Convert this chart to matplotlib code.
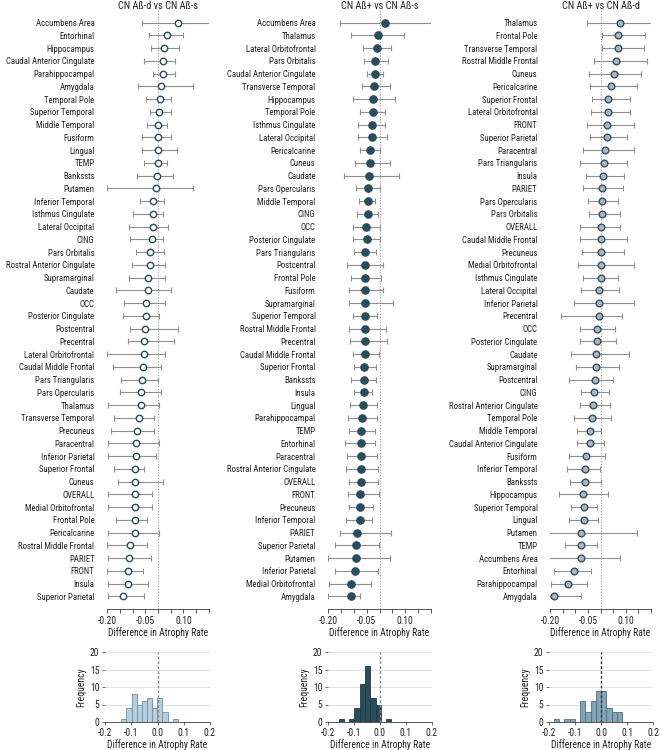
import matplotlib
matplotlib.use("Agg")
import matplotlib.pyplot as plt
from matplotlib import font_manager
from matplotlib.textpath import TextPath
from matplotlib.font_manager import FontProperties
import numpy as np

# ---------------- data ----------------
titles = ["CN Aß-d vs CN Aß-s", "CN Aß+ vs CN Aß-s", "CN Aß+ vs CN Aß-d"]

p1_regions = ["Accumbens Area", "Entorhinal", "Hippocampus", "Caudal Anterior Cingulate", "Parahippocampal",
              "Amygdala", "Temporal Pole", "Superior Temporal", "Middle Temporal", "Fusiform", "Lingual", "TEMP",
              "Bankssts", "Putamen", "Inferior Temporal", "Isthmus Cingulate", "Lateral Occipital", "CING",
              "Pars Orbitalis", "Rostral Anterior Cingulate", "Supramarginal", "Caudate", "OCC",
              "Posterior Cingulate", "Postcentral", "Precentral", "Lateral Orbitofrontal", "Caudal Middle Frontal",
              "Pars Triangularis", "Pars Opercularis", "Thalamus", "Transverse Temporal", "Precuneus",
              "Paracentral", "Inferior Parietal", "Superior Frontal", "Cuneus", "OVERALL", "Medial Orbitofrontal",
              "Frontal Pole", "Pericalcarine", "Rostral Middle Frontal", "PARIET", "FRONT", "Insula",
              "Superior Parietal"]
p1_est = [0.080, 0.037, 0.022, 0.021, 0.021, 0.010, 0.007, 0.004, 0.000, 0.001, 0.001, -0.001, -0.003, -0.007,
          -0.018, -0.021, -0.021, -0.022, -0.031, -0.033, -0.040, -0.040, -0.046, -0.046, -0.052, -0.054,
          -0.056, -0.057, -0.063, -0.068, -0.068, -0.073, -0.081, -0.085, -0.087, -0.090, -0.091, -0.091,
          -0.091, -0.091, -0.091, -0.110, -0.114, -0.119, -0.119, -0.136]
p1_lo = [-0.064, -0.034, -0.029, -0.055, -0.018, -0.077, -0.048, -0.031, -0.042, -0.061, -0.061, -0.055, -0.081,
         -0.201, -0.070, -0.097, -0.112, -0.110, -0.086, -0.103, -0.112, -0.166, -0.132, -0.138, -0.110, -0.116,
         -0.201, -0.178, -0.144, -0.149, -0.198, -0.172, -0.185, -0.195, -0.198, -0.171, -0.155, -0.195, -0.198,
         -0.166, -0.198, -0.201, -0.198, -0.201, -0.198, -0.198]
p1_hi = [0.210, 0.099, 0.084, 0.068, 0.068, 0.138, 0.050, 0.050, 0.037, 0.050, 0.073, 0.037, 0.060, 0.136,
         0.025, 0.021, 0.040, 0.021, 0.025, 0.029, 0.029, 0.050, 0.029, 0.003, 0.077, 0.063, 0.029, 0.012,
         0.001, 0.010, 0.005, -0.014, -0.014, 0.003, -0.008, -0.054, 0.018, -0.025, -0.025, -0.042, 0.005,
         -0.044, -0.029, -0.060, -0.038, -0.055]

p2_regions = ["Accumbens Area", "Thalamus", "Lateral Orbitofrontal", "Pars Orbitalis", "Caudal Anterior Cingulate",
              "Transverse Temporal", "Hippocampus", "Temporal Pole", "Isthmus Cingulate", "Lateral Occipital",
              "Pericalcarine", "Cuneus", "Caudate", "Pars Opercularis", "Middle Temporal", "CING", "OCC",
              "Posterior Cingulate", "Pars Triangularis", "Postcentral", "Frontal Pole", "Fusiform",
              "Supramarginal", "Superior Temporal", "Rostral Middle Frontal", "Precentral", "Caudal Middle Frontal",
              "Superior Frontal", "Bankssts", "Insula", "Lingual", "Parahippocampal", "TEMP", "Entorhinal",
              "Paracentral", "Rostral Anterior Cingulate", "OVERALL", "FRONT", "Precuneus", "Inferior Temporal",
              "PARIET", "Superior Parietal", "Putamen", "Inferior Parietal", "Medial Orbitofrontal", "Amygdala"]
p2_est = [0.022, -0.004, -0.009, -0.019, -0.019, -0.021, -0.026, -0.026, -0.030, -0.031, -0.036, -0.036, -0.039,
          -0.044, -0.044, -0.044, -0.051, -0.048, -0.055, -0.055, -0.057, -0.057, -0.057, -0.057, -0.057,
          -0.058, -0.058, -0.060, -0.062, -0.062, -0.066, -0.069, -0.070, -0.071, -0.071, -0.071, -0.071,
          -0.074, -0.074, -0.075, -0.086, -0.092, -0.092, -0.095, -0.110, -0.110]
p2_lo = [-0.152, -0.110, -0.065, -0.061, -0.049, -0.069, -0.104, -0.077, -0.082, -0.082, -0.077, -0.096, -0.139,
         -0.091, -0.078, -0.088, -0.104, -0.104, -0.100, -0.125, -0.110, -0.119, -0.117, -0.104, -0.119,
         -0.116, -0.104, -0.100, -0.110, -0.100, -0.114, -0.122, -0.119, -0.135, -0.127, -0.131, -0.117,
         -0.122, -0.119, -0.132, -0.152, -0.171, -0.201, -0.171, -0.197, -0.201]
p2_hi = [0.210, 0.095, 0.043, 0.032, 0.013, 0.039, 0.062, 0.023, 0.021, 0.029, 0.001, 0.039, 0.075, 0.003,
         -0.016, -0.006, 0.003, 0.000, -0.012, 0.013, 0.005, 0.013, 0.052, -0.010, 0.026, 0.029, -0.001,
         -0.013, -0.013, -0.029, -0.009, -0.009, -0.018, -0.018, -0.009, -0.006, -0.005, -0.001, -0.025,
         -0.030, 0.045, -0.001, 0.042, -0.005, -0.032, -0.077]

p3_regions = ["Thalamus", "Frontal Pole", "Transverse Temporal", "Rostral Middle Frontal", "Cuneus", "Pericalcarine",
              "Superior Frontal", "Lateral Orbitofrontal", "FRONT", "Superior Parietal", "Paracentral",
              "Pars Triangularis", "Insula", "PARIET", "Pars Opercularis", "Pars Orbitalis", "OVERALL",
              "Caudal Middle Frontal", "Precuneus", "Medial Orbitofrontal", "Isthmus Cingulate",
              "Lateral Occipital", "Inferior Parietal", "Precentral", "OCC", "Posterior Cingulate", "Caudate",
              "Supramarginal", "Postcentral", "CING", "Rostral Anterior Cingulate", "Temporal Pole",
              "Middle Temporal", "Caudal Anterior Cingulate", "Fusiform", "Inferior Temporal", "Bankssts",
              "Hippocampus", "Superior Temporal", "Lingual", "Putamen", "TEMP", "Accumbens Area", "Entorhinal",
              "Parahippocampal", "Amygdala"]
p3_est = [0.078, 0.068, 0.068, 0.060, 0.053, 0.040, 0.029, 0.031, 0.027, 0.027, 0.019, 0.015, 0.011, 0.004,
          0.005, 0.005, 0.001, 0.000, 0.000, 0.000, 0.000, -0.005, -0.007, -0.007, -0.012, -0.013, -0.016,
          -0.017, -0.023, -0.025, -0.029, -0.033, -0.041, -0.041, -0.057, -0.061, -0.061, -0.068, -0.066,
          -0.066, -0.076, -0.076, -0.077, -0.106, -0.130, -0.184]
p3_lo = [-0.054, 0.005, 0.005, -0.027, -0.046, -0.041, -0.034, -0.037, -0.054, -0.041, -0.070, -0.081, -0.057,
         -0.070, -0.050, -0.046, -0.081, -0.081, -0.073, -0.090, -0.070, -0.077, -0.106, -0.158, -0.081,
         -0.081, -0.117, -0.097, -0.126, -0.077, -0.082, -0.106, -0.092, -0.092, -0.126, -0.134, -0.122,
         -0.163, -0.117, -0.126, -0.203, -0.139, -0.203, -0.183, -0.195, -0.203]
p3_hi = [0.221, 0.176, 0.172, 0.184, 0.160, 0.145, 0.117, 0.117, 0.133, 0.105, 0.133, 0.105, 0.092, 0.088,
         0.069, 0.077, 0.077, 0.105, 0.092, 0.133, 0.070, 0.073, 0.133, 0.086, 0.057, 0.062, 0.114, 0.073,
         0.049, 0.033, 0.037, 0.040, 0.003, 0.013, 0.017, -0.001, 0.001, 0.031, -0.015, -0.011, 0.146,
         -0.015, 0.077, -0.037, -0.054, -0.078]

# histogram bins (left edge of first bin, bin width) and counts
h1_start, h1_width = -0.138, 0.0196
h1_counts = [1, 4, 8, 5, 6, 7, 4, 7, 3, 0, 1]
h2_start, h2_width = -0.159, 0.0203
h2_counts = [1, 0, 1, 4, 11, 16, 7, 5, 0, 1]
h3_start, h3_width = -0.182, 0.0203
h3_counts = [1, 0, 1, 1, 0, 6, 3, 6, 9, 9, 4, 3, 3]

# ---------------- font selection (prefer a condensed sans) ----------------
ttf = font_manager.fontManager.ttflist
names = {f.name for f in ttf}
family, stretch = None, 'normal'
for cand in ['Liberation Sans Narrow', 'Roboto Condensed', 'Open Sans Condensed', 'Noto Sans Condensed']:
    if cand in names:
        family = cand
        break
if family is None:
    for pref in ['Noto Sans', 'Open Sans', 'Roboto', 'DejaVu Sans', 'Liberation Sans']:
        cands = [f for f in ttf if f.name == pref and f.stretch in ('condensed', 'semi-condensed', 'extra-condensed')
                 and f.style == 'normal']
        if cands:
            family, stretch = pref, cands[0].stretch
            break
if family is None:
    family = 'Lato' if 'Lato' in names else 'DejaVu Sans'

plt.rcParams['font.family'] = [family, 'DejaVu Sans']
plt.rcParams['font.stretch'] = stretch

# size: fit the longest label to its width in the reference
fp = FontProperties(family=[family, 'DejaVu Sans'], stretch=stretch, size=10)
w10 = TextPath((0, 0), "Caudal Anterior Cingulate", prop=fp).get_extents().width  # points at size 10
fs = min(8.4, 10 * (88 * 0.72) / w10)
fs_title = fs * 1.16
fs_lab = fs * 1.1

# ---------------- styles ----------------
W, H = 660, 750
fig = plt.figure(figsize=(W / 100, H / 100), dpi=100)

dark = "#2b4c5a"
err_col = "#8e9091"
txt = "#222222"
spine_col = "#555555"

forest_px = [(107, 209), (328, 431), (550, 651)]
hist_px = [(105, 210), (328, 432), (549, 653)]
top_px, bot_px = 10, 609
htop_px, hbot_px = 652, 722

marker_styles = [
    dict(marker='o', markersize=4.6, markerfacecolor='white', markeredgecolor=dark, markeredgewidth=1.0),
    dict(marker='o', markersize=5.2, markerfacecolor=dark, markeredgecolor=dark, markeredgewidth=1.0),
    dict(marker='o', markersize=4.8, markerfacecolor='#a9b8c3', markeredgecolor='#3a4f5a', markeredgewidth=1.0),
]
hist_face = ['#b7cfdd', '#2b4c5a', '#82a5b7']
hist_edge = ['#6d8fa3', '#1f3a46', '#4d6f80']
vline_col = ['#8a8a8a', '#8a8a8a', '#333333']

panels = [(p1_regions, p1_est, p1_lo, p1_hi),
          (p2_regions, p2_est, p2_lo, p2_hi),
          (p3_regions, p3_est, p3_lo, p3_hi)]
hists = [(h1_start, h1_width, h1_counts), (h2_start, h2_width, h2_counts), (h3_start, h3_width, h3_counts)]

for i in range(3):
    regions, est, lo, hi = panels[i]
    est = np.array(est); lo = np.array(lo); hi = np.array(hi)
    x0, x1 = forest_px[i]
    ax = fig.add_axes([x0 / W, 1 - bot_px / H, (x1 - x0) / W, (bot_px - top_px) / H])
    y = np.arange(len(regions))
    ax.axvline(0, color='#9a9a9a', lw=0.8, ls=(0, (1, 1.5)), zorder=1)
    ax.errorbar(est, y, xerr=[est - lo, hi - est], fmt='none', ecolor=err_col, elinewidth=0.8,
                capsize=2.0, capthick=0.8, zorder=2)
    ax.plot(est, y, linestyle='none', zorder=3, **marker_styles[i])
    ax.set_xlim(-0.2, 0.2)
    ax.set_ylim(len(regions), -1)
    ax.set_yticks(y)
    ax.set_yticklabels(regions, fontsize=fs, color=txt)
    ax.tick_params(axis='y', left=False, pad=5.5)
    ax.set_xticks(np.arange(-0.20, 0.2001, 0.05))
    ax.set_xticklabels(['-0.20', '', '', '-0.05', '', '', '0.10', '', ''], fontsize=fs_lab, color=txt)
    ax.tick_params(axis='x', length=3, width=0.7, color=spine_col, pad=2)
    for s in ['top', 'left', 'right']:
        ax.spines[s].set_visible(False)
    ax.spines['bottom'].set_color(spine_col)
    ax.spines['bottom'].set_linewidth(0.7)
    ax.set_xlabel('Difference in Atrophy Rate', fontsize=fs_lab, color=txt, labelpad=1)
    ax.text(0.5, 1.0 + 4 / (bot_px - top_px), titles[i], transform=ax.transAxes, ha='center', va='center',
            fontsize=fs_title, color=txt)

    # histogram
    start, width, counts = hists[i]
    edges = start + width * np.arange(len(counts))
    hx0, hx1 = hist_px[i]
    hax = fig.add_axes([hx0 / W, 1 - hbot_px / H, (hx1 - hx0) / W, (hbot_px - htop_px) / H])
    hax.set_axisbelow(True)
    hax.yaxis.grid(True, color='#dddddd', lw=0.6)
    hax.bar(edges, counts, width=width, align='edge', color=hist_face[i], edgecolor=hist_edge[i],
            linewidth=0.6, zorder=2)
    hax.axvline(0, color=vline_col[i], lw=1.0, ls=(0, (2, 1.5)), zorder=3)
    hax.set_xlim(-0.2, 0.2)
    hax.set_ylim(0, 20)
    hax.set_xticks([-0.2, -0.1, 0.0, 0.1, 0.2])
    hax.set_xticklabels(['-0.2', '-0.1', '0.0', '0.1', '0.2'], fontsize=fs_lab, color=txt)
    hax.set_yticks([0, 5, 10, 15, 20])
    hax.set_yticklabels(['0', '5', '10', '15', '20'], fontsize=fs_lab, color=txt)
    hax.tick_params(axis='both', length=2.5, width=0.6, color=spine_col, pad=1.5)
    for s in ['top', 'right']:
        hax.spines[s].set_visible(False)
    hax.spines['left'].set_visible(False)
    hax.spines['bottom'].set_color(spine_col)
    hax.spines['bottom'].set_linewidth(0.7)
    hax.set_ylabel('Frequency', fontsize=fs_lab, color=txt, labelpad=3)
    hax.set_xlabel('Difference in Atrophy Rate', fontsize=fs_lab, color=txt, labelpad=1)

fig.savefig('out.png', dpi=100)
